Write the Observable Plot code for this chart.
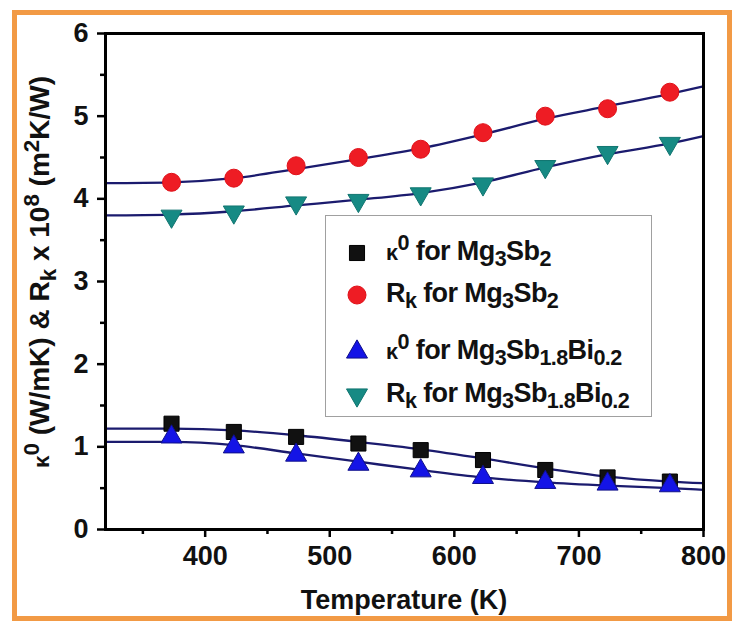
<!DOCTYPE html>
<html>
<head>
<meta charset="utf-8">
<script src="https://cdn.jsdelivr.net/npm/d3@7"></script>
<script src="https://cdn.jsdelivr.net/npm/@observablehq/plot@0.6"></script>
<style>
  html, body { margin: 0; padding: 0; background: #fff; }
  #wrap { position: relative; width: 733px; height: 622px; overflow: hidden; font-family: "Liberation Sans", Arial, sans-serif; font-weight: bold; }
  #border { position: absolute; left: 12px; top: 10px; width: 720px; height: 611px; box-sizing: border-box; border: 5px solid #f29a45; pointer-events: none; }
  #xtitle { position: absolute; left: 404px; top: 600px; transform: translate(-50%, -50%); font-size: 27px; white-space: nowrap; color: #111; }
  #ytitle { position: absolute; left: 40px; top: 272px; transform: translate(-50%, -50%) rotate(-90deg); font-size: 28px; white-space: nowrap; color: #111; }
  #legend { position: absolute; left: 325px; top: 215px; width: 327px; height: 202px; box-sizing: border-box; border: 1.5px solid #a0a0a0; background: #fff; }
  .row { position: absolute; left: 0; height: 30px; font-size: 27px; color: #111; white-space: nowrap; }
  .row svg { position: absolute; left: 18px; top: 2px; }
  .row .lab { position: absolute; left: 60px; top: -2px; line-height: 30px; letter-spacing: -0.6px; }
  sub, sup { font-size: 0.8em; line-height: 0; }
  .kap { font-size: 0.8em; }
</style>
</head>
<body>
<div id="wrap">
  <div id="chart"></div>
  <div id="border"></div>
  <div id="xtitle">Temperature (K)</div>
  <div id="ytitle"><span class="kap">κ</span><sup>0</sup> (W/mK) &amp; R<sub>k</sub> x 10<sup>8</sup> (m<sup>2</sup>K/W)</div>
  <div id="legend"></div>
</div>
<script>
// ---- data ----
const temps = [373, 423, 473, 523, 573, 623, 673, 723, 773];
const kappaMgSb   = [1.28, 1.18, 1.12, 1.04, 0.96, 0.84, 0.72, 0.63, 0.58];
const rkMgSb      = [4.20, 4.25, 4.40, 4.50, 4.60, 4.80, 5.00, 5.09, 5.29];
const kappaMgSbBi = [1.12, 1.00, 0.90, 0.79, 0.71, 0.63, 0.57, 0.55, 0.53];
const rkMgSbBi    = [3.79, 3.84, 3.95, 3.98, 4.06, 4.18, 4.39, 4.56, 4.67];

// fitted curves
const fitTemps = [320, 373, 423, 473, 523, 573, 623, 673, 723, 773, 800];
const fitKappaMgSb   = [1.22, 1.22, 1.20, 1.14, 1.06, 0.97, 0.86, 0.74, 0.64, 0.58, 0.56];
const fitRkMgSb      = [4.19, 4.20, 4.25, 4.36, 4.48, 4.61, 4.78, 4.97, 5.12, 5.27, 5.36];
const fitKappaMgSbBi = [1.06, 1.06, 1.02, 0.92, 0.82, 0.72, 0.63, 0.57, 0.53, 0.50, 0.48];
const fitRkMgSbBi    = [3.80, 3.81, 3.85, 3.92, 3.99, 4.07, 4.20, 4.38, 4.54, 4.67, 4.76];

const xMajor = [400, 500, 600, 700, 800];
const xMinor = [350, 450, 550, 650, 750];
const yMajor = [0, 1, 2, 3, 4, 5, 6];
const yMinor = [0.5, 1.5, 2.5, 3.5, 4.5, 5.5];

const seriesNames = ["kMgSb", "rkMgSb", "kMgSbBi", "rkMgSbBi"];
const legendHTML = [
  '<span class="kap">κ</span><sup>0</sup> for Mg<sub>3</sub>Sb<sub>2</sub>',
  'R<sub>k</sub> for Mg<sub>3</sub>Sb<sub>2</sub>',
  '<span class="kap">κ</span><sup>0</sup> for Mg<sub>3</sub>Sb<sub>1.8</sub>Bi<sub>0.2</sub>',
  'R<sub>k</sub> for Mg<sub>3</sub>Sb<sub>1.8</sub>Bi<sub>0.2</sub>'
];

// ---- styles ----
const lineColor = "#1b1b6e";
const style = {
  kMgSb:    {symbol: "square",   fill: "#111111", stroke: "#000", r: 8.5, rotate: 0},
  rkMgSb:   {symbol: "circle",   fill: "#ee1c24", stroke: "#e01018", r: 9, rotate: 0},
  kMgSbBi:  {symbol: "triangle", fill: "#1414e6", stroke: "#10108a", r: 7.8, rotate: 0},
  rkMgSbBi: {symbol: "triangle", fill: "#168a84", stroke: "#117570", r: 7.8, rotate: 180}
};

const pts = (vals, s) => temps.map((t, i) => ({t, v: vals[i], s}));
const fit = (vals, s) => fitTemps.map((t, i) => ({t, v: vals[i], s}));
const pointSets = [pts(kappaMgSb, "kMgSb"), pts(rkMgSb, "rkMgSb"), pts(kappaMgSbBi, "kMgSbBi"), pts(rkMgSbBi, "rkMgSbBi")];
const fitSets = [fit(fitKappaMgSb, "kMgSb"), fit(fitRkMgSb, "rkMgSb"), fit(fitKappaMgSbBi, "kMgSbBi"), fit(fitRkMgSbBi, "rkMgSbBi")];

const tickStyle = {strokeWidth: 2.5, stroke: "#000", fontSize: 27, fontWeight: "bold", fill: "#111"};

const chart = Plot.plot({
  width: 733,
  height: 622,
  marginLeft: 105,
  marginRight: 30,
  marginTop: 33,
  marginBottom: 93,
  style: {fontFamily: "Liberation Sans, Arial, sans-serif", background: "transparent", overflow: "visible"},
  x: {domain: [320, 800]},
  y: {domain: [0, 6]},
  marks: [
    ...fitSets.map(d => Plot.line(d, {x: "t", y: "v", curve: "monotone-x", stroke: lineColor, strokeWidth: 2.3})),
    ...pointSets.map((d, i) => {
      const st = style[seriesNames[i]];
      return Plot.dot(d, {x: "t", y: "v", symbol: st.symbol, fill: st.fill, stroke: st.stroke, strokeWidth: 1, r: st.r, rotate: st.rotate});
    }),
    Plot.axisX(xMajor, {...tickStyle, tickSize: 8, tickPadding: 8, tickFormat: d3.format("d"), label: null}),
    Plot.axisX(xMinor, {...tickStyle, tickSize: 5, tickFormat: () => "", label: null}),
    Plot.axisY(yMajor, {...tickStyle, tickSize: 8, tickPadding: 9, tickFormat: d3.format("d"), label: null}),
    Plot.axisY(yMinor, {...tickStyle, tickSize: 5, tickFormat: () => "", label: null}),
    Plot.frame({stroke: "#000", strokeWidth: 3})
  ]
});
document.getElementById("chart").appendChild(chart);

// ---- legend ----
const legend = document.getElementById("legend");
const rowTops = [22, 64, 121, 164];
seriesNames.forEach((name, i) => {
  const st = style[name];
  const row = document.createElement("div");
  row.className = "row";
  row.style.top = rowTops[i] + "px";
  const size = Math.PI * st.r * st.r;
  const sym = st.symbol === "square" ? d3.symbolSquare : st.symbol === "circle" ? d3.symbolCircle : d3.symbolTriangle;
  const path = d3.symbol(sym, size)();
  row.innerHTML = `<svg width="26" height="26" viewBox="-13 -13 26 26"><path d="${path}" fill="${st.fill}" stroke="${st.stroke}" transform="rotate(${st.rotate})"/></svg><div class="lab">${legendHTML[i]}</div>`;
  legend.appendChild(row);
});
</script>
</body>
</html>
